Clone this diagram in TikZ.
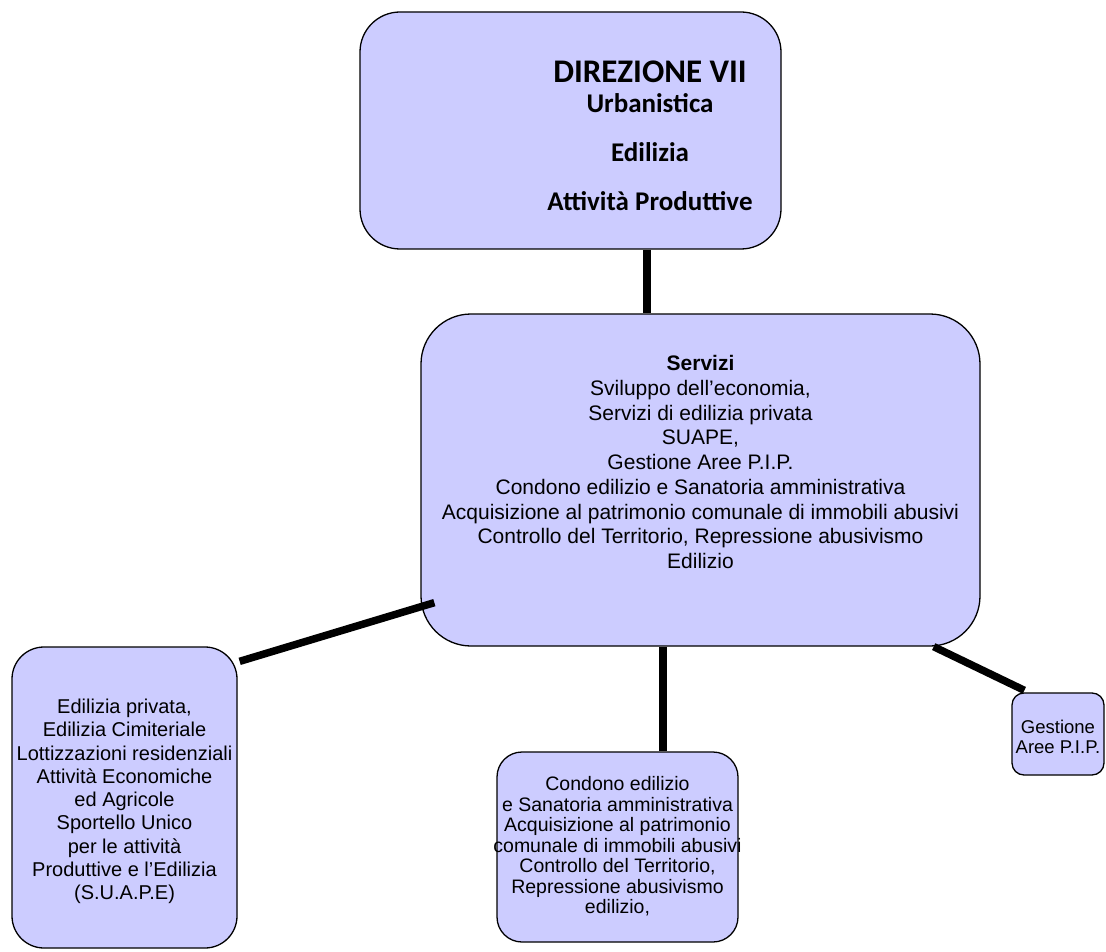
\documentclass[tikz,border=0pt]{standalone}
\usepackage{fontspec}
\setmainfont{Liberation Sans}
\newfontfamily\calibri{Carlito}
\usetikzlibrary{calc}
\definecolor{boxfill}{RGB}{204,204,255}

\tikzset{
  box/.style={draw, fill=boxfill, line width=1.3pt, inner sep=0pt},
  link/.style={line width=7.5pt},
  lbl/.style={inner sep=0pt, align=center},
}

\begin{document}
\begin{tikzpicture}[x=1pt, y=-1pt]
  \useasboundingbox (0,0) rectangle (1106,952);
  % boxes
  \node[box, rounded corners=40pt, minimum width=421pt, minimum height=237pt] (dir) at (570.5,130.5) {};
  \node[box, rounded corners=50pt, minimum width=559pt, minimum height=332pt] (serv) at (700.5,480) {};
  \node[box, rounded corners=32pt, minimum width=225pt, minimum height=301pt] (priv) at (124.5,797.5) {};
  \node[box, rounded corners=25pt, minimum width=241pt, minimum height=190pt] (cond) at (617.5,847) {};
  \node[box, rounded corners=12pt, minimum width=92pt, minimum height=82pt] (pip) at (1058,734) {};
  % texts
  \node[lbl, font=\calibri\bfseries\fontsize{27}{29.5}\selectfont] (dirlbl) at (650,135.6)
    {{\fontsize{33}{29.5}\selectfont DIREZIONE VII}\\ Urbanistica\\[20pt] Edilizia\\[19pt] Attività Produttive};
  \node[lbl, font=\fontsize{21}{24.75}\selectfont] (servlbl) at (700.5,462)
    {\textbf{Servizi}\\ Sviluppo dell’economia,\\ Servizi di edilizia privata\\ SUAPE,\\ Gestione Aree P.I.P.\\
     Condono edilizio e Sanatoria amministrativa\\ Acquisizione al patrimonio comunale di immobili abusivi\\
     Controllo del Territorio, Repressione abusivismo\\ Edilizio};
  \node[lbl, font=\fontsize{20}{23.3}\selectfont] (privlbl) at (124.5,801.5)
    {Edilizia privata,\\ Edilizia Cimiteriale\\ Lottizzazioni residenziali\\ Attività Economiche\\ ed Agricole\\
     Sportello Unico\\ per le attività\\ Produttive e l’Edilizia\\ (S.U.A.P.E)};
  \node[lbl, font=\fontsize{19.5}{20.5}\selectfont] (condlbl) at (617.5,846.5)
    {Condono edilizio\\ e Sanatoria amministrativa\\ Acquisizione al patrimonio\\ comunale di immobili abusivi\\
     Controllo del Territorio,\\ Repressione abusivismo\\ edilizio,};
  \node[lbl, font=\fontsize{18.5}{20}\selectfont] (piplbl) at (1058,737) {Gestione\\ Aree P.I.P.};
  % connectors
  \draw[link] ($(dir.south)+(76.5,0)$) -- ($(serv.north)+(-53.5,0)$);
  \draw[link] ($(serv.south west)+(14,-44)$) -- ($(priv.north east)+(2,15)$);
  \draw[link] ($(serv.south)+(-37.5,0)$) -- ($(cond.north)+(45.5,0)$);
  \draw[link] ($(serv.south east)+(-47,0)$) -- ($(pip.north west)+(13,-2)$);
\end{tikzpicture}
\end{document}
